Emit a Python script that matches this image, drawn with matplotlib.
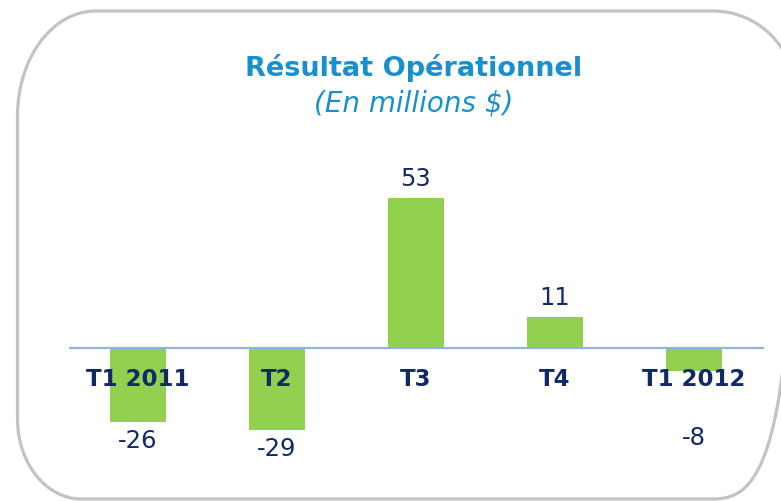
import matplotlib
matplotlib.use("Agg")
import matplotlib.pyplot as plt
from matplotlib.path import Path
from matplotlib.patches import PathPatch
from matplotlib import transforms

categories = ["T1 2011", "T2", "T3", "T4", "T1 2012"]
values = [-26, -29, 53, 11, -8]
title = "Résultat Opérationnel"
subtitle = "(En millions $)"

W, H = 781, 501
fig = plt.figure(figsize=(W / 100, H / 100), dpi=100)
fig.patch.set_facecolor("white")

# pixel -> figure transform (y from top)
px = transforms.Affine2D().scale(1 / W, -1 / H).translate(0, 1) + fig.transFigure

# rounded frame with elliptical corners
def rounded_path(l, t, r, b, corners):
    k = 0.5523
    (tlx, tly), (trx, try_), (brx, bry), (blx, bly) = corners
    verts, codes = [], []
    verts.append((l + tlx, t)); codes.append(Path.MOVETO)
    verts.append((r - trx, t)); codes.append(Path.LINETO)
    verts += [(r - trx + k * trx, t), (r, t + try_ - k * try_), (r, t + try_)]
    codes += [Path.CURVE4] * 3
    verts.append((r, b - bry)); codes.append(Path.LINETO)
    verts += [(r, b - bry + k * bry), (r - brx + k * brx, b), (r - brx, b)]
    codes += [Path.CURVE4] * 3
    verts.append((l + blx, b)); codes.append(Path.LINETO)
    verts += [(l + blx - k * blx, b), (l, b - bly + k * bly), (l, b - bly)]
    codes += [Path.CURVE4] * 3
    verts.append((l, t + tly)); codes.append(Path.LINETO)
    verts += [(l, t + tly - k * tly), (l + tlx - k * tlx, t), (l + tlx, t)]
    codes += [Path.CURVE4] * 3
    return Path(verts, codes)

frame = rounded_path(17.5, 11, 795, 499,
                     [(78, 105), (82, 82), (82, 80), (64, 80)])
fig.patches.append(PathPatch(frame, transform=px, facecolor="none",
                             edgecolor="#C3C3C3", lw=2.3, clip_on=False))

fig.text(413.5 / W, 1 - 68 / H, title, ha="center", va="center",
         fontsize=19.5, fontweight="bold", color="#1890CF",
         family="DejaVu Sans")
fig.text(414 / W, 1 - 103 / H, subtitle, ha="center", va="center",
         fontsize=20, style="italic", color="#1890CF",
         family="DejaVu Sans")

# axes geometry
scale = 2.83  # px per unit
top_px, bot_px, zero_px = 140, 480, 348
ax = fig.add_axes([68.5 / W, (H - bot_px) / H, 695 / W, (bot_px - top_px) / H])
ax.set_xlim(-0.5, len(categories) - 0.5)
ax.set_ylim(-(bot_px - zero_px) / scale, (zero_px - top_px) / scale)
ax.axis("off")

x = list(range(len(categories)))
ax.bar(x, values, width=0.4, color="#92D050", zorder=2)
ax.axhline(0, color="#8EB4E3", lw=1.6, zorder=3)

navy = "#10296A"
for xi, cat, v in zip(x, categories, values):
    ax.annotate(cat, (xi, 0), xytext=(0, -23), textcoords="offset points",
                ha="center", va="center", fontsize=16.5, fontweight="bold",
                color=navy, zorder=4)
    if v >= 0:
        ax.annotate(str(v), (xi, v), xytext=(0, 8.8), textcoords="offset points",
                    ha="center", va="baseline", fontsize=17.5, color=navy)
    else:
        ax.annotate(str(v), (xi, min(v, -25)), xytext=(0, -5),
                    textcoords="offset points", ha="center", va="top",
                    fontsize=17.5, color=navy)

fig.savefig("out.png", dpi=100)
